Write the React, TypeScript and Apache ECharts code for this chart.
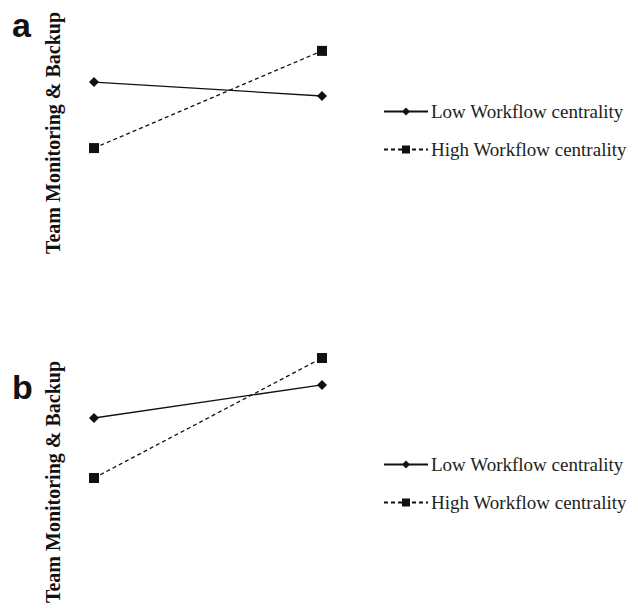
import React, { useEffect, useRef } from "react";
import * as echarts from "echarts";

const categories = [0, 1];
const seriesNames = ["Low Workflow centrality", "High Workflow centrality"];
const lowA = [7.83, 7.25];
const highA = [5.08, 9.13];
const lowB = [6.75, 8.13];
const highB = [4.25, 9.25];
const panelLabels = ["a", "b"];
const yTitle = "Team Monitoring & Backup";

export default function App() {
  const ref = useRef<HTMLDivElement>(null);
  useEffect(() => {
    if (!ref.current) return;
    const chart = echarts.init(ref.current, null, { renderer: "svg" });
    const mk = (vals: number[]) => vals.map((v, i) => [categories[i], v]);
    const lowStyle = {
      type: "line",
      symbol: "diamond",
      symbolSize: 10,
      lineStyle: { color: "#111", width: 1.3, type: "solid" },
      itemStyle: { color: "#111" },
    };
    const highStyle = {
      type: "line",
      symbol: "rect",
      symbolSize: 10,
      lineStyle: { color: "#111", width: 1.3, type: [4, 3] },
      itemStyle: { color: "#111" },
    };
    const axisX = (gi: number) => ({
      gridIndex: gi,
      type: "value",
      min: 0,
      max: 1,
      show: false,
    });
    const axisY = (gi: number) => ({
      gridIndex: gi,
      type: "value",
      min: 0,
      max: 10,
      show: false,
    });
    const legend = (top: number) => ({
      orient: "vertical",
      left: 378,
      top,
      itemWidth: 44,
      itemHeight: 10,
      itemGap: 19,
      data: seriesNames,
      textStyle: { fontFamily: "Liberation Serif", fontSize: 19, color: "#222", padding: [0, 0, 0, -2] },
      selectedMode: false,
    });
    const title = (y: number) => ({
      type: "text",
      x: 53,
      y,
      rotation: Math.PI / 2,
      style: {
        text: yTitle,
        font: "bold 20px Liberation Serif",
        fill: "#111",
        align: "center",
        verticalAlign: "middle",
      },
    });
    const letter = (text: string, y: number) => ({
      type: "text",
      x: 12,
      y,
      style: { text, font: "bold 34px Liberation Sans", fill: "#111", verticalAlign: "bottom" },
    });
    chart.setOption({
      animation: false,
      backgroundColor: "#fff",
      grid: [
        { left: 94, width: 228, top: 30, height: 240 },
        { left: 94, width: 228, top: 340, height: 240 },
      ],
      xAxis: [axisX(0), axisX(1)],
      yAxis: [axisY(0), axisY(1)],
      legend: [legend(97), legend(450)],
      series: [
        { ...lowStyle, name: seriesNames[0], xAxisIndex: 0, yAxisIndex: 0, data: mk(lowA) },
        { ...highStyle, name: seriesNames[1], xAxisIndex: 0, yAxisIndex: 0, data: mk(highA) },
        { ...lowStyle, name: seriesNames[0], xAxisIndex: 1, yAxisIndex: 1, data: mk(lowB) },
        { ...highStyle, name: seriesNames[1], xAxisIndex: 1, yAxisIndex: 1, data: mk(highB) },
      ],
      graphic: [
        letter(panelLabels[0], 42),
        letter(panelLabels[1], 404),
        title(133),
        title(482),
      ],
    });
    return () => chart.dispose();
  }, []);
  return <div ref={ref} style={{ width: 638, height: 612, margin: -8 }} />;
}
